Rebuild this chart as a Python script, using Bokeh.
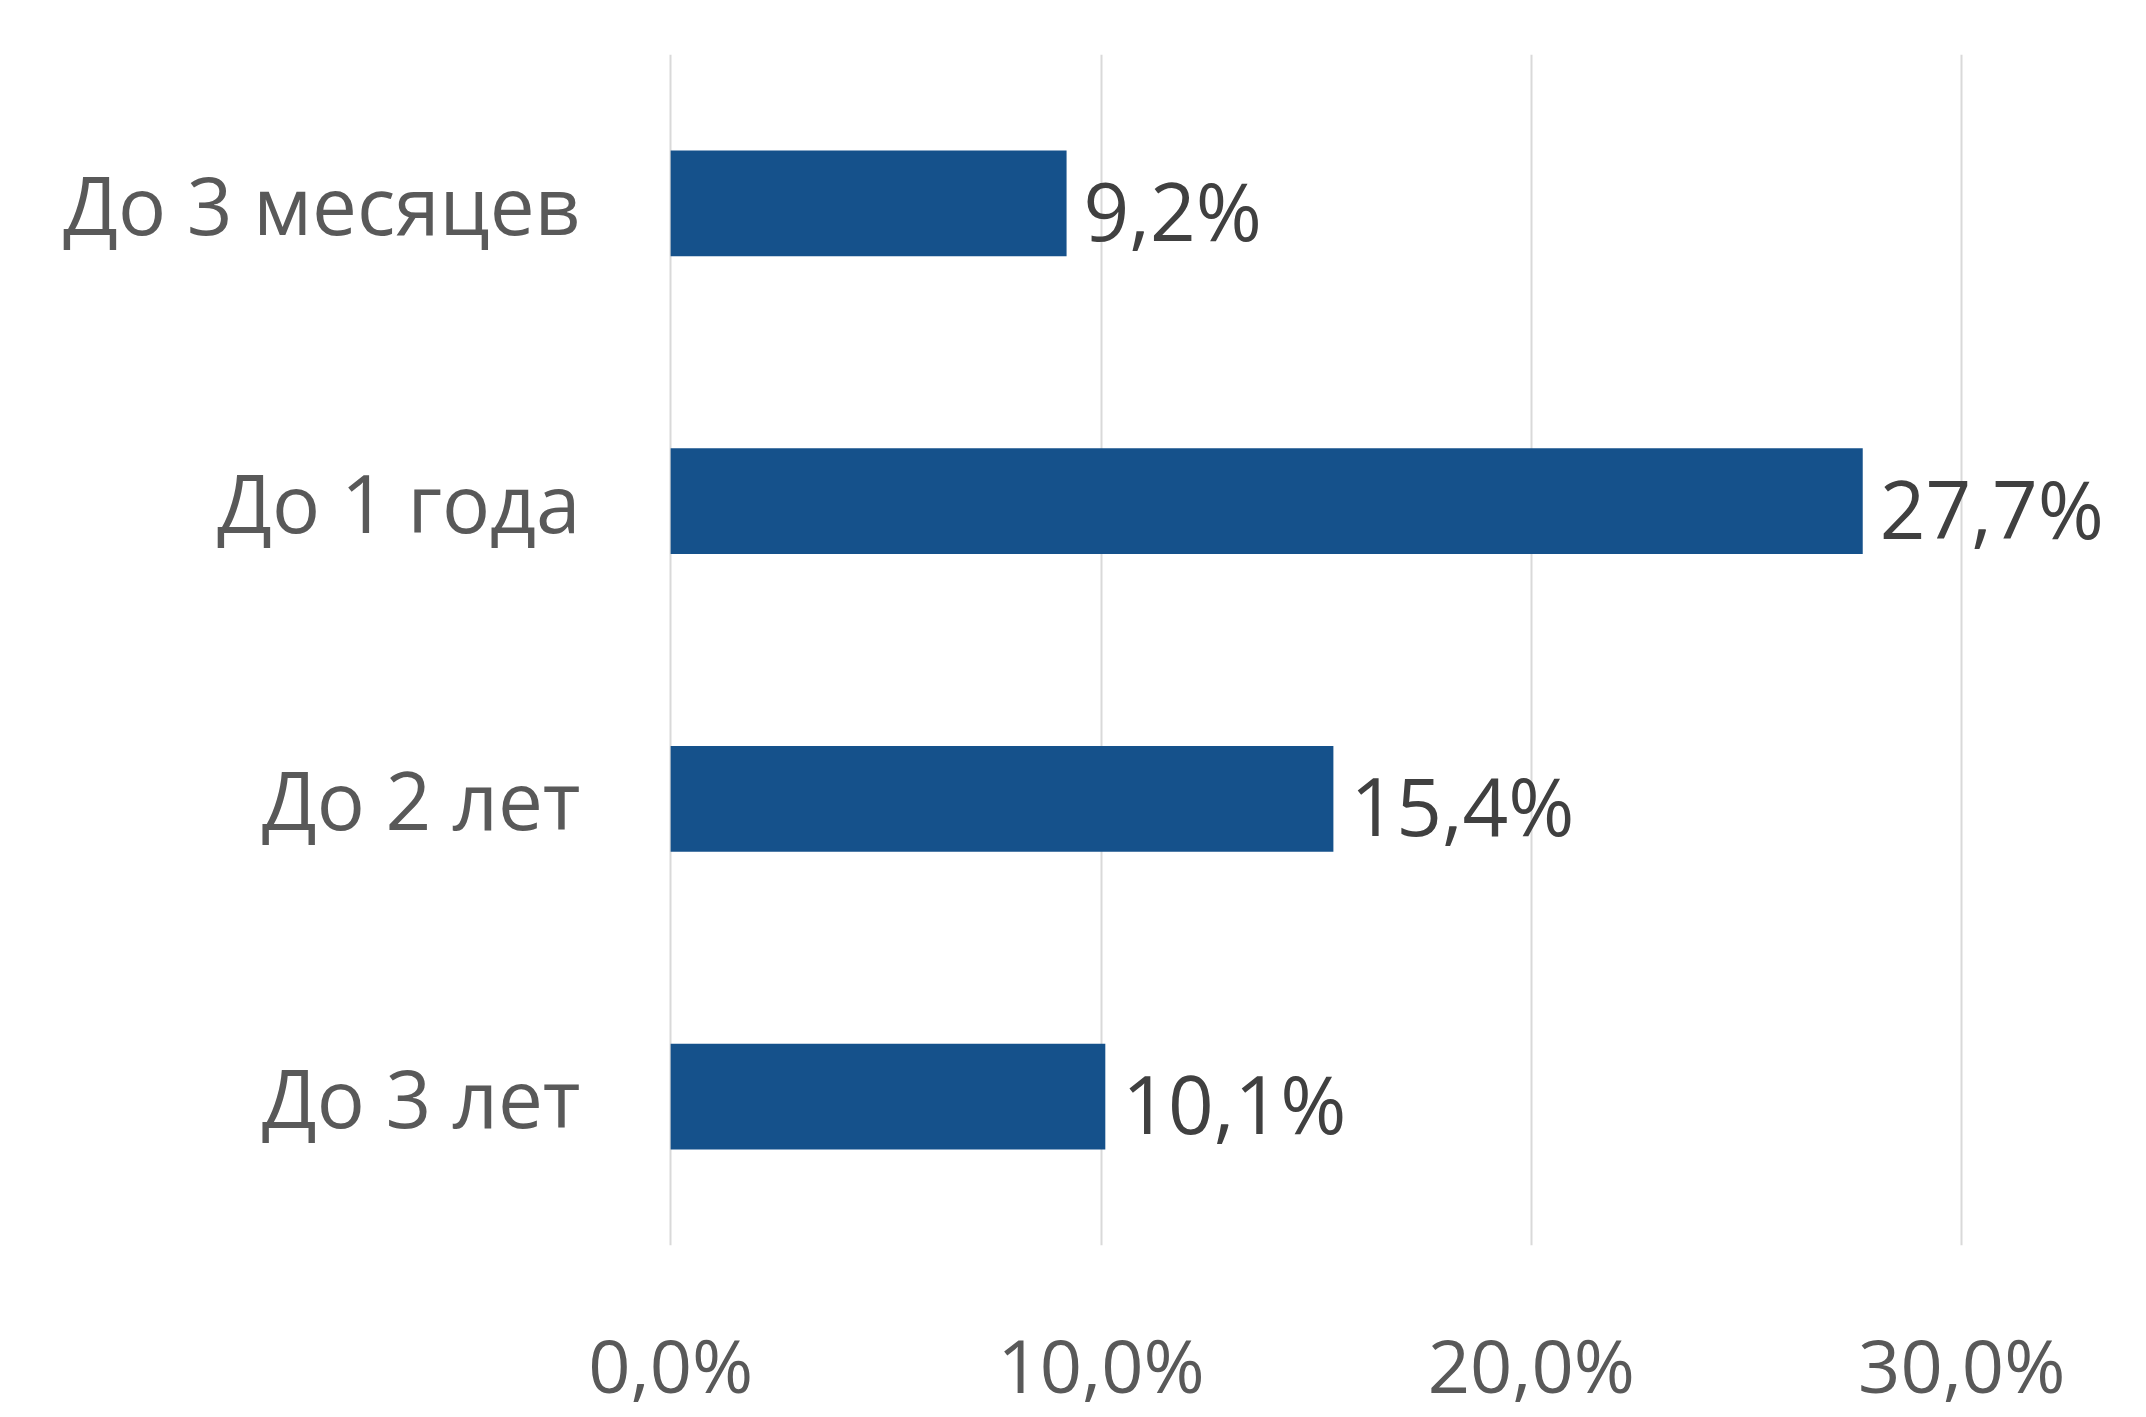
from bokeh.plotting import figure
from bokeh.models import ColumnDataSource, Range1d, FixedTicker, CustomJSTickFormatter
from bokeh.core.properties import value
from bokeh.embed import file_html
from bokeh.resources import INLINE

categories = ["До 3 месяцев", "До 1 года", "До 2 лет", "До 3 лет"]
values = [9.2, 27.7, 15.4, 10.1]
x_ticks = [0, 10, 20, 30]

labels = [f"{v:.1f}".replace(".", ",") + "%" for v in values]
src = ColumnDataSource(dict(cat=categories, val=values, lab=labels))

FONT = "Open Sans"

p = figure(
    y_range=list(reversed(categories)),
    x_range=Range1d(-0.05, 33.62),
    frame_width=1449, frame_height=1191,
    output_backend="svg", toolbar_location=None,
    min_border_left=668, min_border_right=10,
    min_border_top=54, min_border_bottom=150,
    background_fill_color="white", border_fill_color="white",
)
p.outline_line_color = None

p.hbar(y="cat", right="val", left=0, height=0.355, source=src,
       fill_color="#15518B", line_color=None)

p.text(x="val", y="cat", text="lab", source=src, x_offset=17, y_offset=6,
       text_baseline="middle", text_align="left",
       text_font=value(FONT), text_font_size="80px", text_color="#404040")

# x axis
p.xaxis.ticker = FixedTicker(ticks=x_ticks)
p.xaxis.formatter = CustomJSTickFormatter(code="return tick.toFixed(1).replace('.', ',') + '%';")
p.xaxis.axis_line_color = None
p.xaxis.major_tick_line_color = None
p.xaxis.minor_tick_line_color = None
p.xaxis.major_label_text_font = FONT
p.xaxis.major_label_text_font_size = "74px"
p.xaxis.major_label_text_color = "#595959"
p.xaxis.major_label_standoff = 62

# y axis
p.yaxis.axis_line_color = None
p.yaxis.major_tick_line_color = None
p.yaxis.minor_tick_line_color = None
p.yaxis.major_label_text_font = FONT
p.yaxis.major_label_text_font_size = "80px"
p.yaxis.major_label_text_color = "#595959"
p.yaxis.major_label_standoff = 82

p.xgrid.grid_line_color = "#D9D9D9"
p.xgrid.grid_line_width = 2
p.ygrid.grid_line_color = None

open("out.html", "w").write(file_html(p, INLINE))
